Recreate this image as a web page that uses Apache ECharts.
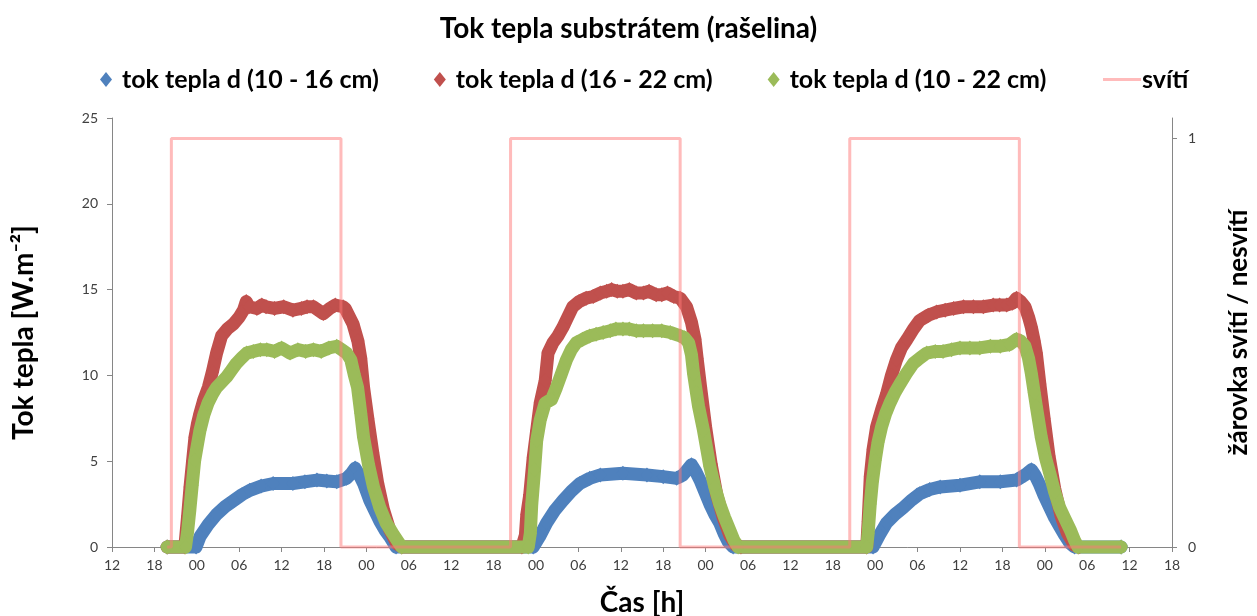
<!DOCTYPE html>
<html>
<head>
<meta charset="utf-8">
<script src="https://cdn.jsdelivr.net/npm/echarts@6/dist/echarts.min.js"></script>
<style>
html, body { margin: 0; padding: 0; background: #fff; }
#main { width: 1257px; height: 616px; }
</style>
</head>
<body>
<div id="main"></div>
<script>
// x = hours since 12:00 of the first day
var hourLabels = ['12','18','00','06','12','18','00','06','12','18','00','06','12','18',
                  '00','06','12','18','00','06','12','18','00','06','12','18'];

var blueTime = [7.8, 11.9, 12.45, 13.6, 14.8, 16.0, 17.2, 18.4, 19.5, 21.1, 22.8, 25.6, 27.3, 29.0, 30.4, 31.8, 33.2, 33.9, 34.4, 35.0, 35.6, 36.5, 37.2, 37.9, 38.6, 39.3, 40.2,
  59.6, 60.5, 61.5, 62.6, 63.8, 65.0, 66.2, 67.6, 69.1, 72.3, 75.7, 78.0, 79.9, 80.8, 81.4, 82.0, 82.6, 83.2, 83.9, 84.6, 85.3, 86.0, 86.6, 87.2, 87.9,
  107.7, 108.6, 109.6, 110.8, 112.0, 113.2, 114.3, 115.7, 117.2, 120.0, 122.8, 125.7, 128.0, 129.2, 130.1, 130.6, 131.2, 131.9, 132.7, 133.4, 134.1, 134.8, 135.6, 136.2, 142.8];
var blueFlux = [0, 0, 0.6, 1.3, 1.9, 2.35, 2.7, 3.05, 3.3, 3.55, 3.7, 3.7, 3.8, 3.9, 3.85, 3.8, 4.0, 4.3, 4.6, 4.2, 3.7, 2.7, 2.1, 1.5, 1.0, 0.6, 0,
  0, 0.6, 1.4, 2.1, 2.7, 3.25, 3.7, 4.0, 4.2, 4.3, 4.2, 4.1, 4.0, 4.2, 4.5, 4.8, 4.4, 3.9, 3.2, 2.5, 1.9, 1.4, 0.8, 0.3, 0,
  0, 0.7, 1.4, 1.9, 2.3, 2.75, 3.1, 3.35, 3.5, 3.6, 3.8, 3.8, 3.9, 4.2, 4.5, 4.2, 3.7, 3.0, 2.3, 1.7, 1.2, 0.7, 0.2, 0, 0];

var redTime = [7.8, 10.3, 10.7, 11.04, 11.4, 11.74, 12.1, 12.45, 13.0, 13.63, 14.2, 14.8, 15.5, 16.3, 17.2, 18.0, 18.6, 19.0, 19.4, 20.5, 21.2, 21.8, 23.0, 24.3, 25.6, 26.8, 27.6, 28.5, 29.9, 30.8, 31.6, 32.7, 33.0, 34.1, 34.8, 35.2, 35.6, 36.2, 36.9, 37.6, 38.4, 39.3, 40.3, 41.0,
  58.0, 58.5, 58.7, 59.1, 59.6, 60.1, 60.6, 61.3, 61.7, 62.4, 63.1, 63.8, 64.5, 65.2, 66.1, 67.1, 68.1, 69.1, 70.0, 70.7, 71.5, 72.3, 73.2, 74.2, 75.2, 76.0, 77.0, 77.8, 78.6, 79.5, 80.4, 81.3, 82.0, 82.5, 82.8, 83.3, 84.0, 84.8, 85.6, 86.5, 87.4, 88.3, 89.0,
  106.8, 107.0, 107.3, 107.7, 108.2, 108.9, 109.6, 110.3, 111.0, 111.7, 112.5, 113.4, 114.3, 115.5, 116.7, 117.9, 119.1, 120.5, 121.9, 123.3, 124.7, 125.6, 126.6, 127.4, 128.0, 128.6, 129.2, 129.7, 130.1, 130.5, 130.8, 131.3, 131.9, 132.6, 133.4, 134.3, 135.2, 136.2, 136.8];
var redFlux = [0, 0, 1.8, 3.5, 5.0, 6.4, 7.2, 7.8, 8.6, 9.3, 10.2, 11.3, 12.3, 12.7, 13.0, 13.4, 13.8, 14.3, 14.0, 13.9, 14.1, 14.0, 13.9, 14.0, 13.8, 13.9, 14.0, 14.0, 13.6, 13.9, 14.1, 14.0, 13.9, 13.0, 12.0, 11.0, 9.3, 7.5, 5.5, 3.7, 2.2, 1.0, 0.2, 0,
  0, 0.7, 1.9, 3.0, 5.2, 6.8, 8.4, 9.7, 11.3, 11.9, 12.3, 12.8, 13.4, 14.0, 14.3, 14.5, 14.6, 14.8, 14.9, 15.0, 14.9, 14.9, 15.0, 14.8, 14.8, 14.9, 14.7, 14.7, 14.8, 14.6, 14.5, 14.0, 13.1, 12.1, 11.0, 9.3, 7.0, 4.8, 3.0, 1.7, 0.7, 0.1, 0,
  0, 1.5, 4.1, 5.7, 7.0, 8.0, 8.9, 10.0, 10.9, 11.6, 12.1, 12.7, 13.2, 13.5, 13.7, 13.8, 13.9, 14.0, 14.0, 14.0, 14.1, 14.1, 14.1, 14.2, 14.5, 14.3, 14.0, 13.4, 12.8, 12.0, 11.3, 9.5, 7.5, 5.3, 3.4, 1.8, 0.8, 0.1, 0];

var greenTime = [7.8, 10.4, 10.7, 11.0, 11.35, 11.7, 12.1, 12.45, 13.0, 13.6, 14.2, 14.8, 15.5, 16.2, 16.9, 17.6, 18.3, 19.06, 20.0, 21.0, 21.9, 23.0, 24.0, 25.2, 26.3, 27.4, 28.5, 29.6, 30.7, 31.8, 32.5, 33.2, 33.8, 34.3, 34.75, 35.2, 35.6, 36.3, 37.0, 37.9, 38.8, 39.7, 40.5, 41.0,
  58.9, 59.2, 59.4, 59.8, 60.1, 60.6, 61.3, 62.2, 62.9, 63.6, 64.3, 65.0, 65.7, 66.6, 67.6, 68.5, 69.5, 70.5, 71.3, 72.3, 73.2, 74.2, 75.2, 76.5, 77.8, 79.0, 80.4, 81.0, 81.6, 82.0, 82.3, 82.7, 83.0, 83.7, 84.6, 85.3, 86.0, 86.7, 87.4, 88.0, 88.6,
  106.8, 107.0, 107.3, 107.6, 108.0, 108.4, 108.9, 109.5, 110.1, 110.8, 111.5, 112.4, 113.4, 114.3, 115.3, 116.5, 117.6, 118.8, 120.0, 121.4, 122.8, 124.3, 125.7, 127.0, 128.0, 128.6, 129.2, 129.7, 130.1, 130.5, 130.8, 131.5, 132.1, 132.7, 133.4, 134.1, 134.9, 135.6, 136.2, 136.7, 142.8];
var greenFlux = [0, 0, 0.9, 2.1, 3.6, 5.05, 6.0, 6.8, 7.7, 8.4, 8.9, 9.3, 9.6, 9.9, 10.3, 10.7, 11.0, 11.3, 11.4, 11.5, 11.5, 11.4, 11.6, 11.3, 11.5, 11.4, 11.5, 11.4, 11.6, 11.7, 11.5, 11.3, 10.9, 10.0, 9.3, 7.8, 6.4, 4.8, 3.5, 2.3, 1.4, 0.8, 0.3, 0,
  0, 0.8, 2.5, 4.5, 6.2, 7.4, 8.4, 8.6, 9.3, 10.1, 10.9, 11.5, 11.9, 12.1, 12.3, 12.4, 12.5, 12.6, 12.7, 12.7, 12.7, 12.6, 12.6, 12.6, 12.6, 12.5, 12.3, 12.2, 11.9, 11.2, 10.1, 9.0, 8.2, 6.8, 4.7, 3.5, 2.5, 1.7, 1.0, 0.4, 0,
  0, 0.8, 2.5, 3.8, 5.05, 6.1, 7.0, 7.8, 8.4, 9.0, 9.5, 10.1, 10.7, 11.0, 11.3, 11.4, 11.4, 11.5, 11.6, 11.6, 11.6, 11.7, 11.7, 11.8, 12.1, 12.0, 11.7, 11.0, 10.1, 9.0, 8.2, 6.4, 5.2, 4.3, 3.2, 2.3, 1.6, 1.0, 0.4, 0, 0];

// lamp on (1) / off (0)
var svitiTime  = [7.8, 8.4, 8.4, 32.4, 32.4, 56.4, 56.4, 80.4, 80.4, 104.4, 104.4, 128.4, 128.4, 142.8];
var svitiState = [0,   0,   1,   1,    0,    0,    1,    1,    0,    0,     1,     1,     0,     0];

function pairs(t, v) {
    var out = [];
    for (var i = 0; i < t.length; i++) out.push([t[i], v[i]]);
    return out;
}

var FONT = 'Lato';
var AXIS = '#868686';
var LABEL = '#404040';
var PINK = 'rgba(255,120,120,0.5)';

function fluxSeries(name, color, t, v, z) {
    return {
        name: name, type: 'line', yAxisIndex: 0, z: z,
        data: pairs(t, v),
        symbol: 'diamond', symbolSize: [13, 15], showSymbol: true,
        itemStyle: { color: color },
        lineStyle: { color: color, width: 13, cap: 'round', join: 'round' },
        clip: false, silent: true
    };
}

var chart = echarts.init(document.getElementById('main'));
chart.setOption({
    animation: false,
    backgroundColor: '#fff',
    title: {
        text: 'Tok tepla substrátem (rašelina)',
        left: 'center', top: 10,
        textStyle: { fontFamily: FONT, fontSize: 28, fontWeight: 'bold', color: '#000' }
    },
    legend: [{
        data: ['tok tepla d (10 - 16 cm)', 'tok tepla d (16 - 22 cm)', 'tok tepla d (10 - 22 cm)'],
        left: 95, top: 62,
        icon: 'diamond', itemWidth: 12, itemHeight: 15, itemGap: 55,
        textStyle: { fontFamily: FONT, fontSize: 25, fontWeight: 'bold', color: '#000', padding: [0, 0, 0, 5] }
    }, {
        data: ['svítí'],
        left: 1098, top: 62,
        icon: 'rect', itemWidth: 38, itemHeight: 3,
        textStyle: { fontFamily: FONT, fontSize: 25, fontWeight: 'bold', color: '#000', padding: [0, 0, 0, -4] }
    }],
    grid: { left: 112, right: 85, top: 118, bottom: 69, outerBoundsMode: 'none', containLabel: false },
    xAxis: {
        type: 'value', min: 0, max: 150, interval: 6,
        name: 'Čas [h]', nameLocation: 'middle', nameGap: 42,
        nameTextStyle: { fontFamily: FONT, fontSize: 28, fontWeight: 'bold', color: '#000' },
        axisLine: { lineStyle: { color: AXIS } },
        axisTick: { show: true, length: 5, lineStyle: { color: AXIS } },
        axisLabel: {
            fontFamily: FONT, fontSize: 14, color: LABEL, margin: 11,
            formatter: function (v) { return hourLabels[Math.round(v / 6)]; }
        },
        splitLine: { show: false }
    },
    yAxis: [{
        type: 'value', min: 0, max: 25, interval: 5,
        name: 'Tok tepla [W.m⁻²]', nameLocation: 'middle', nameRotate: 90, nameGap: 74,
        nameTextStyle: { fontFamily: FONT, fontSize: 28, fontWeight: 'bold', color: '#000' },
        axisLine: { show: true, lineStyle: { color: AXIS } },
        axisTick: { show: true, length: 5, lineStyle: { color: AXIS } },
        axisLabel: { fontFamily: FONT, fontSize: 14, color: LABEL, margin: 14 },
        splitLine: { show: false }
    }, {
        type: 'value', min: 0, max: 1.05, interval: 1, position: 'right',
        name: 'žárovka svítí / nesvítí', nameLocation: 'middle', nameRotate: 90, nameGap: 54,
        nameTextStyle: { fontFamily: FONT, fontSize: 26, fontWeight: 'bold', color: '#000' },
        axisLine: { show: true, lineStyle: { color: AXIS } },
        axisTick: { show: true, length: 5, customValues: [0, 1], lineStyle: { color: AXIS } },
        axisLabel: { fontFamily: FONT, fontSize: 14, color: LABEL, margin: 16, customValues: [0, 1] },
        splitLine: { show: false }
    }],
    series: [
        fluxSeries('tok tepla d (10 - 16 cm)', '#4F81BD', blueTime, blueFlux, 2),
        fluxSeries('tok tepla d (16 - 22 cm)', '#C0504D', redTime, redFlux, 3),
        fluxSeries('tok tepla d (10 - 22 cm)', '#9BBB59', greenTime, greenFlux, 4),
        {
            name: 'svítí', type: 'line', yAxisIndex: 1, z: 6,
            data: pairs(svitiTime, svitiState),
            showSymbol: false, symbol: 'none',
            itemStyle: { color: PINK },
            lineStyle: { color: PINK, width: 3 },
            clip: false, silent: true
        }
    ]
});
</script>
</body>
</html>
